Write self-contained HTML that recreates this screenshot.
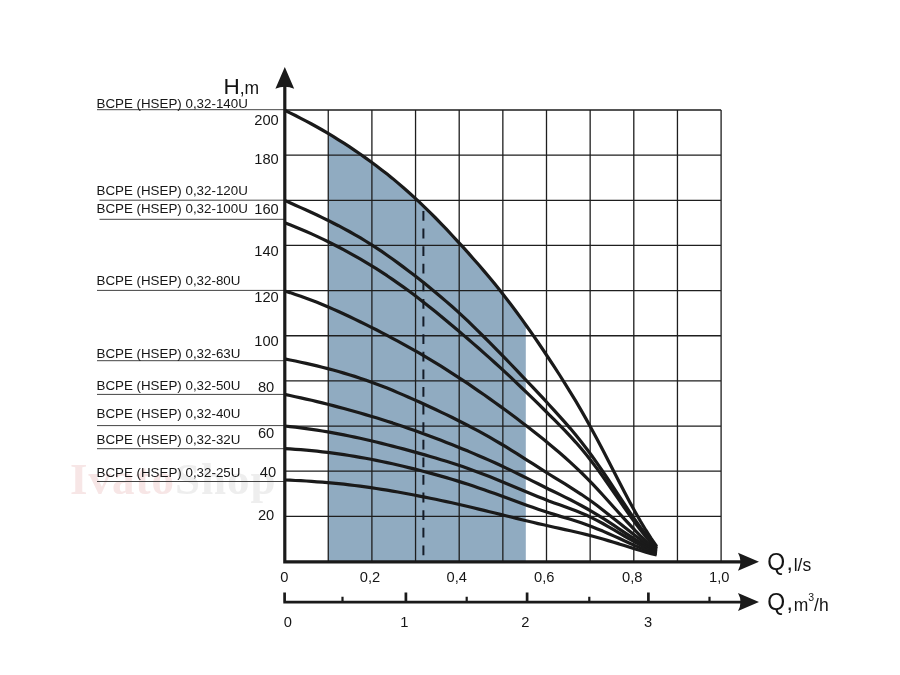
<!DOCTYPE html>
<html><head><meta charset="utf-8"><title>H-Q</title>
<style>html,body{margin:0;padding:0;background:#fff}svg{display:block;filter:blur(0.45px)}</style></head>
<body>
<svg width="900" height="675" viewBox="0 0 900 675">
<rect width="900" height="675" fill="#fff"/>
<text x="70" y="494" font-family="'Liberation Serif',serif" font-weight="bold" font-size="45" letter-spacing="1"><tspan fill="#f7e6e6">Ivato</tspan><tspan fill="#eeeeee">Shop</tspan></text>
<path d="M328.2,561.5 L328.2,133.5 L333.3,136.5 L338.3,139.7 L343.4,142.9 L348.5,146.2 L353.5,149.5 L358.6,153.0 L363.7,156.6 L368.7,160.2 L373.8,163.9 L378.9,167.7 L383.9,171.6 L389.0,175.6 L394.1,179.7 L399.1,184.0 L404.2,188.3 L409.3,192.8 L414.3,197.4 L419.4,202.1 L424.5,207.0 L429.5,211.9 L434.6,217.0 L439.7,222.2 L444.7,227.5 L449.8,232.9 L454.9,238.3 L459.9,243.8 L465.0,249.4 L470.1,255.0 L475.1,260.7 L480.2,266.5 L485.3,272.4 L490.3,278.5 L495.4,284.7 L500.5,291.0 L505.5,297.5 L510.6,304.1 L515.7,310.9 L520.7,317.8 L525.8,324.9 L525.8,561.5 Z" fill="#90abc1"/>
<path d="M328.25,110.00V561.5M371.90,110.00V561.5M415.55,110.00V561.5M459.20,110.00V561.5M502.85,110.00V561.5M546.50,110.00V561.5M590.15,110.00V561.5M633.80,110.00V561.5M677.45,110.00V561.5M721.10,110.00V561.5M284.6,516.35H721.10M284.6,471.20H721.10M284.6,426.05H721.10M284.6,380.90H721.10M284.6,335.75H721.10M284.6,290.60H721.10M284.6,245.45H721.10M284.6,200.30H721.10M284.6,155.15H721.10M284.6,110.00H721.10" stroke="#1e1e1e" stroke-width="1.3" fill="none"/>
<path d="M97,109.7H284M99.5,200.2H284M99.5,219.3H284M97,290.4H284M97,360.7H284M97,394.4H284M97,425.6H284M97,448.7H284M97,481.5H284" stroke="#444" stroke-width="1" fill="none"/>
<g font-family="'Liberation Sans',sans-serif" font-size="13.35" fill="#161616">
<text x="96.5" y="108">BCPE (HSEP) 0,32-140U</text>
<text x="96.5" y="194.5">BCPE (HSEP) 0,32-120U</text>
<text x="96.5" y="213.3">BCPE (HSEP) 0,32-100U</text>
<text x="96.5" y="285">BCPE (HSEP) 0,32-80U</text>
<text x="96.5" y="358">BCPE (HSEP) 0,32-63U</text>
<text x="96.5" y="390">BCPE (HSEP) 0,32-50U</text>
<text x="96.5" y="418.4">BCPE (HSEP) 0,32-40U</text>
<text x="96.5" y="444.2">BCPE (HSEP) 0,32-32U</text>
<text x="96.5" y="476.7">BCPE (HSEP) 0,32-25U</text>
</g>
<path d="M423.4,211V556" stroke="#141c28" stroke-width="2" stroke-dasharray="9.8,7.8" fill="none"/>
<path d="M284.6,110.3 L290.0,112.9 L295.4,115.5 L300.8,118.3 L306.2,121.1 L311.6,124.0 L317.0,127.0 L322.3,130.0 L327.7,133.2 L333.1,136.4 L338.5,139.8 L343.9,143.2 L349.3,146.7 L354.7,150.3 L360.1,154.0 L365.5,157.9 L370.9,161.8 L376.3,165.8 L381.7,169.9 L387.1,174.1 L392.5,178.4 L397.8,182.9 L403.2,187.5 L408.6,192.2 L414.0,197.1 L419.4,202.1 L424.8,207.3 L430.2,212.6 L435.6,218.0 L441.0,223.6 L446.4,229.2 L451.8,235.0 L457.2,240.8 L462.6,246.7 L468.0,252.6 L473.3,258.7 L478.7,264.8 L484.1,271.1 L489.5,277.5 L494.9,284.1 L500.3,290.8 L505.7,297.7 L511.1,304.7 L516.5,312.0 L521.9,319.4 L527.3,327.0 L532.7,334.7 L538.1,342.5 L543.5,350.5 L548.8,358.5 L554.2,366.7 L559.6,375.0 L565.0,383.6 L570.4,392.3 L575.8,401.2 L581.2,410.4 L586.6,419.9 L592.0,429.7 L597.4,439.8 L602.8,450.1 L608.2,460.5 L613.6,471.0 L619.0,481.4 L624.3,491.7 L629.7,501.9 L635.1,511.7 L640.5,521.2 L645.9,530.2 L651.3,538.6 L656.7,546.5" stroke="#1a1a1a" stroke-width="3.2" fill="none" stroke-linecap="butt" stroke-linejoin="round"/>
<path d="M284.6,200.4 L290.0,202.8 L295.4,205.2 L300.8,207.6 L306.2,210.0 L311.6,212.5 L317.0,215.0 L322.3,217.6 L327.7,220.2 L333.1,223.0 L338.5,225.7 L343.9,228.6 L349.3,231.5 L354.7,234.6 L360.1,237.7 L365.5,241.0 L370.9,244.4 L376.3,247.8 L381.7,251.4 L387.1,255.2 L392.5,259.0 L397.8,262.9 L403.2,266.9 L408.6,271.0 L414.0,275.1 L419.4,279.3 L424.8,283.6 L430.2,288.0 L435.6,292.4 L441.0,296.9 L446.4,301.6 L451.8,306.3 L457.2,311.1 L462.6,316.1 L468.0,321.2 L473.3,326.4 L478.7,331.6 L484.1,337.0 L489.5,342.4 L494.9,347.9 L500.3,353.4 L505.7,358.9 L511.1,364.5 L516.5,370.2 L521.9,375.8 L527.3,381.5 L532.7,387.2 L538.1,392.9 L543.5,398.7 L548.8,404.5 L554.2,410.4 L559.6,416.3 L565.0,422.4 L570.4,428.6 L575.8,435.1 L581.2,441.8 L586.6,448.7 L592.0,456.0 L597.4,463.6 L602.8,471.5 L608.2,479.5 L613.6,487.7 L619.0,495.9 L624.3,504.0 L629.7,512.1 L635.1,519.9 L640.5,527.5 L645.9,534.8 L651.3,541.6 L656.7,548.0" stroke="#1a1a1a" stroke-width="3.2" fill="none" stroke-linecap="butt" stroke-linejoin="round"/>
<path d="M284.6,222.7 L290.0,224.8 L295.4,227.0 L300.8,229.2 L306.2,231.5 L311.6,233.9 L317.0,236.4 L322.3,238.9 L327.7,241.5 L333.1,244.2 L338.5,247.0 L343.9,249.9 L349.3,252.8 L354.7,255.8 L360.1,258.9 L365.5,262.1 L370.9,265.4 L376.3,268.7 L381.7,272.2 L387.1,275.7 L392.5,279.4 L397.8,283.1 L403.2,286.9 L408.6,290.8 L414.0,294.8 L419.4,299.0 L424.8,303.2 L430.2,307.4 L435.6,311.8 L441.0,316.2 L446.4,320.7 L451.8,325.2 L457.2,329.8 L462.6,334.4 L468.0,339.0 L473.3,343.6 L478.7,348.3 L484.1,353.1 L489.5,357.9 L494.9,362.7 L500.3,367.7 L505.7,372.6 L511.1,377.7 L516.5,382.8 L521.9,388.0 L527.3,393.2 L532.7,398.4 L538.1,403.7 L543.5,409.0 L548.8,414.3 L554.2,419.7 L559.6,425.1 L565.0,430.6 L570.4,436.4 L575.8,442.3 L581.2,448.5 L586.6,455.0 L592.0,461.9 L597.4,469.1 L602.8,476.6 L608.2,484.3 L613.6,492.1 L619.0,499.9 L624.3,507.7 L629.7,515.4 L635.1,522.8 L640.5,530.0 L645.9,536.7 L651.3,543.0 L656.7,548.8" stroke="#1a1a1a" stroke-width="3.2" fill="none" stroke-linecap="butt" stroke-linejoin="round"/>
<path d="M284.6,291.0 L290.0,292.6 L295.4,294.4 L300.8,296.2 L306.2,298.2 L311.6,300.2 L317.0,302.3 L322.3,304.5 L327.7,306.8 L333.1,309.1 L338.5,311.5 L343.9,314.0 L349.3,316.5 L354.7,319.1 L360.1,321.7 L365.5,324.4 L370.9,327.1 L376.3,329.8 L381.7,332.6 L387.1,335.4 L392.5,338.3 L397.8,341.1 L403.2,344.1 L408.6,347.1 L414.0,350.1 L419.4,353.2 L424.8,356.4 L430.2,359.6 L435.6,362.9 L441.0,366.2 L446.4,369.6 L451.8,373.1 L457.2,376.6 L462.6,380.1 L468.0,383.7 L473.3,387.4 L478.7,391.1 L484.1,394.8 L489.5,398.6 L494.9,402.5 L500.3,406.4 L505.7,410.3 L511.1,414.3 L516.5,418.3 L521.9,422.4 L527.3,426.5 L532.7,430.7 L538.1,435.0 L543.5,439.3 L548.8,443.7 L554.2,448.2 L559.6,452.8 L565.0,457.5 L570.4,462.4 L575.8,467.4 L581.2,472.5 L586.6,477.9 L592.0,483.4 L597.4,489.2 L602.8,495.0 L608.2,501.0 L613.6,507.0 L619.0,513.0 L624.3,518.9 L629.7,524.7 L635.1,530.4 L640.5,535.8 L645.9,540.9 L651.3,545.6 L656.7,550.0" stroke="#1a1a1a" stroke-width="3.2" fill="none" stroke-linecap="butt" stroke-linejoin="round"/>
<path d="M284.6,358.9 L290.0,360.0 L295.4,361.0 L300.8,362.2 L306.2,363.4 L311.6,364.6 L317.0,365.9 L322.3,367.2 L327.7,368.6 L333.1,370.0 L338.5,371.5 L343.9,373.1 L349.3,374.7 L354.7,376.4 L360.1,378.2 L365.5,380.0 L370.9,381.9 L376.3,383.9 L381.7,386.0 L387.1,388.1 L392.5,390.3 L397.8,392.6 L403.2,394.9 L408.6,397.2 L414.0,399.6 L419.4,402.0 L424.8,404.5 L430.2,407.0 L435.6,409.5 L441.0,412.1 L446.4,414.6 L451.8,417.3 L457.2,420.0 L462.6,422.7 L468.0,425.5 L473.3,428.3 L478.7,431.2 L484.1,434.2 L489.5,437.2 L494.9,440.3 L500.3,443.5 L505.7,446.7 L511.1,450.1 L516.5,453.4 L521.9,456.9 L527.3,460.3 L532.7,463.7 L538.1,467.2 L543.5,470.6 L548.8,474.0 L554.2,477.3 L559.6,480.6 L565.0,483.9 L570.4,487.3 L575.8,490.8 L581.2,494.3 L586.6,498.0 L592.0,501.8 L597.4,505.8 L602.8,509.9 L608.2,514.2 L613.6,518.4 L619.0,522.7 L624.3,527.1 L629.7,531.3 L635.1,535.5 L640.5,539.6 L645.9,543.6 L651.3,547.4 L656.7,551.0" stroke="#1a1a1a" stroke-width="3.2" fill="none" stroke-linecap="butt" stroke-linejoin="round"/>
<path d="M284.6,394.4 L290.0,395.5 L295.4,396.7 L300.8,397.9 L306.2,399.1 L311.6,400.3 L317.0,401.6 L322.3,402.9 L327.7,404.3 L333.1,405.6 L338.5,407.1 L343.9,408.5 L349.3,410.0 L354.7,411.5 L360.1,413.0 L365.5,414.6 L370.9,416.2 L376.3,417.8 L381.7,419.5 L387.1,421.2 L392.5,422.9 L397.8,424.7 L403.2,426.5 L408.6,428.4 L414.0,430.3 L419.4,432.2 L424.8,434.2 L430.2,436.2 L435.6,438.2 L441.0,440.3 L446.4,442.4 L451.8,444.5 L457.2,446.7 L462.6,448.9 L468.0,451.1 L473.3,453.4 L478.7,455.7 L484.1,458.0 L489.5,460.4 L494.9,462.8 L500.3,465.3 L505.7,467.9 L511.1,470.4 L516.5,473.1 L521.9,475.7 L527.3,478.4 L532.7,481.1 L538.1,483.8 L543.5,486.5 L548.8,489.2 L554.2,491.8 L559.6,494.4 L565.0,497.1 L570.4,499.8 L575.8,502.6 L581.2,505.5 L586.6,508.5 L592.0,511.6 L597.4,514.9 L602.8,518.2 L608.2,521.7 L613.6,525.2 L619.0,528.8 L624.3,532.4 L629.7,535.9 L635.1,539.3 L640.5,542.7 L645.9,546.0 L651.3,549.1 L656.7,552.0" stroke="#1a1a1a" stroke-width="3.2" fill="none" stroke-linecap="butt" stroke-linejoin="round"/>
<path d="M284.6,426.0 L290.0,426.6 L295.4,427.2 L300.8,427.8 L306.2,428.6 L311.6,429.3 L317.0,430.1 L322.3,431.0 L327.7,431.9 L333.1,432.9 L338.5,433.9 L343.9,434.9 L349.3,436.0 L354.7,437.1 L360.1,438.3 L365.5,439.5 L370.9,440.8 L376.3,442.0 L381.7,443.4 L387.1,444.7 L392.5,446.1 L397.8,447.5 L403.2,448.9 L408.6,450.4 L414.0,451.9 L419.4,453.4 L424.8,454.9 L430.2,456.5 L435.6,458.0 L441.0,459.7 L446.4,461.3 L451.8,463.0 L457.2,464.8 L462.6,466.6 L468.0,468.5 L473.3,470.5 L478.7,472.5 L484.1,474.5 L489.5,476.6 L494.9,478.8 L500.3,481.0 L505.7,483.2 L511.1,485.5 L516.5,487.7 L521.9,490.0 L527.3,492.3 L532.7,494.5 L538.1,496.7 L543.5,498.8 L548.8,500.9 L554.2,502.9 L559.6,504.8 L565.0,506.8 L570.4,508.7 L575.8,510.8 L581.2,513.0 L586.6,515.3 L592.0,517.9 L597.4,520.6 L602.8,523.5 L608.2,526.6 L613.6,529.7 L619.0,532.9 L624.3,536.0 L629.7,539.2 L635.1,542.2 L640.5,545.2 L645.9,548.0 L651.3,550.6 L656.7,553.0" stroke="#1a1a1a" stroke-width="3.2" fill="none" stroke-linecap="butt" stroke-linejoin="round"/>
<path d="M284.6,448.6 L290.0,448.9 L295.4,449.3 L300.8,449.7 L306.2,450.1 L311.6,450.6 L317.0,451.2 L322.3,451.8 L327.7,452.4 L333.1,453.1 L338.5,453.9 L343.9,454.7 L349.3,455.5 L354.7,456.4 L360.1,457.3 L365.5,458.3 L370.9,459.3 L376.3,460.4 L381.7,461.5 L387.1,462.6 L392.5,463.8 L397.8,465.0 L403.2,466.3 L408.6,467.6 L414.0,468.9 L419.4,470.3 L424.8,471.7 L430.2,473.1 L435.6,474.6 L441.0,476.1 L446.4,477.6 L451.8,479.2 L457.2,480.9 L462.6,482.6 L468.0,484.3 L473.3,486.1 L478.7,487.9 L484.1,489.8 L489.5,491.7 L494.9,493.6 L500.3,495.6 L505.7,497.5 L511.1,499.5 L516.5,501.5 L521.9,503.5 L527.3,505.4 L532.7,507.3 L538.1,509.2 L543.5,511.0 L548.8,512.7 L554.2,514.4 L559.6,516.1 L565.0,517.7 L570.4,519.3 L575.8,521.0 L581.2,522.8 L586.6,524.7 L592.0,526.7 L597.4,528.9 L602.8,531.1 L608.2,533.5 L613.6,535.9 L619.0,538.3 L624.3,540.8 L629.7,543.2 L635.1,545.6 L640.5,547.9 L645.9,550.1 L651.3,552.1 L656.7,554.0" stroke="#1a1a1a" stroke-width="3.2" fill="none" stroke-linecap="butt" stroke-linejoin="round"/>
<path d="M284.6,480.0 L290.0,480.2 L295.4,480.5 L300.8,480.7 L306.2,481.0 L311.6,481.4 L317.0,481.8 L322.3,482.2 L327.7,482.7 L333.1,483.1 L338.5,483.7 L343.9,484.2 L349.3,484.8 L354.7,485.5 L360.1,486.2 L365.5,486.9 L370.9,487.7 L376.3,488.5 L381.7,489.3 L387.1,490.2 L392.5,491.1 L397.8,492.0 L403.2,493.0 L408.6,494.0 L414.0,495.0 L419.4,496.1 L424.8,497.1 L430.2,498.2 L435.6,499.3 L441.0,500.5 L446.4,501.6 L451.8,502.8 L457.2,504.0 L462.6,505.3 L468.0,506.5 L473.3,507.8 L478.7,509.1 L484.1,510.4 L489.5,511.7 L494.9,513.0 L500.3,514.4 L505.7,515.7 L511.1,517.0 L516.5,518.4 L521.9,519.7 L527.3,521.0 L532.7,522.3 L538.1,523.6 L543.5,524.8 L548.8,526.0 L554.2,527.2 L559.6,528.4 L565.0,529.6 L570.4,530.8 L575.8,532.0 L581.2,533.3 L586.6,534.6 L592.0,536.0 L597.4,537.5 L602.8,539.0 L608.2,540.6 L613.6,542.3 L619.0,543.9 L624.3,545.6 L629.7,547.3 L635.1,548.9 L640.5,550.5 L645.9,552.1 L651.3,553.6 L656.7,555.0" stroke="#1a1a1a" stroke-width="3.2" fill="none" stroke-linecap="butt" stroke-linejoin="round"/>
<path d="M284.8,561.8V86M283.2,561.8H742" stroke="#1a1a1a" stroke-width="3.2" fill="none"/>
<path d="M284.8,67L294.2,88.8Q284.8,84.8 275.40000000000003,88.8Z" fill="#1a1a1a"/>
<path d="M759,561.8L738,552.8Q743,561.8 738,570.8Z" fill="#1a1a1a"/>
<path d="M342.5,602.1V596.7M466.7,602.1V596.7M589.3,602.1V596.7M709.5,602.1V596.7" stroke="#1a1a1a" stroke-width="2.2" fill="none"/>
<path d="M283.3,602.1H742M284.6,602.1V592.6M405.9,602.1V592.6M527.1,602.1V592.6M648.4,602.1V592.6" stroke="#1a1a1a" stroke-width="2.7" fill="none"/>
<path d="M759,602.1L738,593.1Q743,602.1 738,611.1Z" fill="#1a1a1a"/>
<g font-family="'Liberation Sans',sans-serif" font-size="14.7" fill="#161616">
<text x="278.8" y="124.9" text-anchor="end">200</text>
<text x="278.8" y="164.4" text-anchor="end">180</text>
<text x="278.8" y="214.3" text-anchor="end">160</text>
<text x="278.8" y="255.8" text-anchor="end">140</text>
<text x="278.8" y="301.5" text-anchor="end">120</text>
<text x="278.8" y="346.4" text-anchor="end">100</text>
<text x="274.3" y="392.1" text-anchor="end">80</text>
<text x="274.3" y="437.6" text-anchor="end">60</text>
<text x="276.2" y="476.7" text-anchor="end">40</text>
<text x="274.3" y="520.2" text-anchor="end">20</text>
</g>
<g font-family="'Liberation Sans',sans-serif" font-size="14.7" fill="#161616" text-anchor="middle">
<text x="284.4" y="582.1">0</text>
<text x="370" y="582.1">0,2</text>
<text x="456.7" y="582.1">0,4</text>
<text x="544.2" y="582.1">0,6</text>
<text x="632.2" y="582.1">0,8</text>
<text x="719.3" y="582.1">1,0</text>
<text x="287.9" y="626.7">0</text>
<text x="404.3" y="626.7">1</text>
<text x="525.3" y="626.7">2</text>
<text x="648" y="626.7">3</text>
</g>
<g font-family="'Liberation Sans',sans-serif" fill="#141414">
<text x="223.5" y="93.8" font-size="22.5">H<tspan font-size="17.5">,m</tspan></text>
<text x="767.2" y="569.6" font-size="23">Q<tspan dx="1.4">,</tspan><tspan font-size="17.5" dx="0.8" dy="1.1">l/s</tspan></text>
<text x="767.2" y="609.6" font-size="23">Q<tspan dx="1.4">,</tspan><tspan font-size="17.5" dx="0.8" dy="0.9">m</tspan><tspan font-size="10.5" dy="-9.5">3</tspan><tspan font-size="17.5" dy="9.5">/h</tspan></text>
</g>
</svg>
</body></html>
